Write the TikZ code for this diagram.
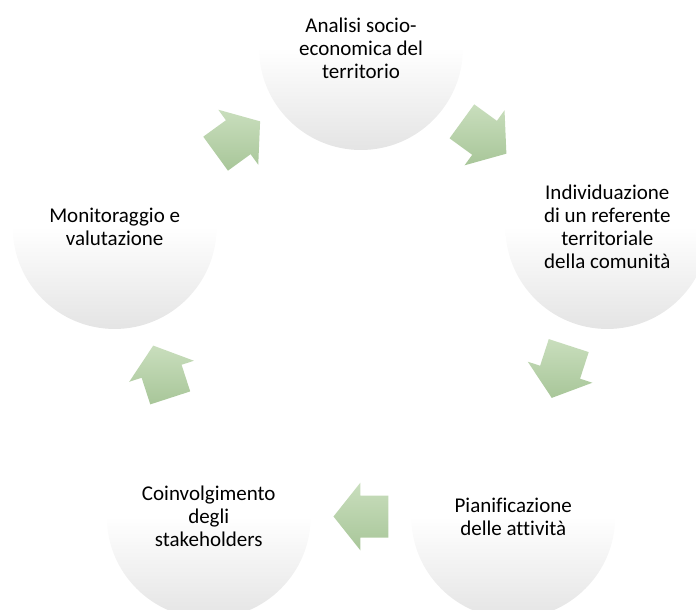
\documentclass[tikz,border=0pt]{standalone}
\usepackage{fontspec}
\setmainfont{Carlito}[Ligatures={NoCommon}]
\usetikzlibrary{calc}

\definecolor{arrowtop}{HTML}{C9DEBD}
\definecolor{arrowbot}{HTML}{A8C699}
\definecolor{discbot}{HTML}{E4E4E4}

\tikzset{
  disc/.style={circle, minimum size=204pt, inner sep=0pt,
    top color=white, bottom color=discbot, middle color=white,
    font=\fontsize{21pt}{23pt}\selectfont, align=center, text=black},
  blockarrow/.style={top color=arrowtop, bottom color=arrowbot, draw=none},
}

\begin{document}
\begin{tikzpicture}[x=1pt, y=1pt]
  % page frame: origin at the centre of the cycle
  \useasboundingbox (-361,-303) rectangle (335,307);
  \begin{scope}
    \clip (-361,-303) rectangle (335,307);

    % the five stages, placed on a pentagon of radius 259
    \node[disc] (s1) at (90:259)   {Analisi socio-\\economica del\\territorio};
    \node[disc] (s2) at (18:259)   {Individuazione\\di un referente\\territoriale\\della comunità};
    \node[disc] (s3) at (-54:259)  {Pianificazione\\delle attività};
    \node[disc] (s4) at (-126:259) {Coinvolgimento\\degli\\stakeholders};
    \node[disc] (s5) at (162:259)  {Monitoraggio e\\valutazione};

    % block arrows halfway between neighbouring stages, pointing clockwise
    \foreach \n/\a in {1/54, 2/-18, 3/-90, 4/-162, 5/126} {
      \pgfmathsetmacro{\d}{\a-90}
      \coordinate (a\n) at (\a:209.5);
      \path[blockarrow]
        ($(a\n)+(\d+180:27.5pt)+(\d+90:21pt)$) --
        ($(a\n)+(\d:0.5pt)+(\d+90:21pt)$) --
        ($(a\n)+(\d:0.5pt)+(\d+90:34pt)$) --
        ($(a\n)+(\d:27.5pt)$) --
        ($(a\n)+(\d:0.5pt)+(\d-90:34pt)$) --
        ($(a\n)+(\d:0.5pt)+(\d-90:21pt)$) --
        ($(a\n)+(\d+180:27.5pt)+(\d-90:21pt)$) -- cycle;
    }
  \end{scope}
\end{tikzpicture}
\end{document}
